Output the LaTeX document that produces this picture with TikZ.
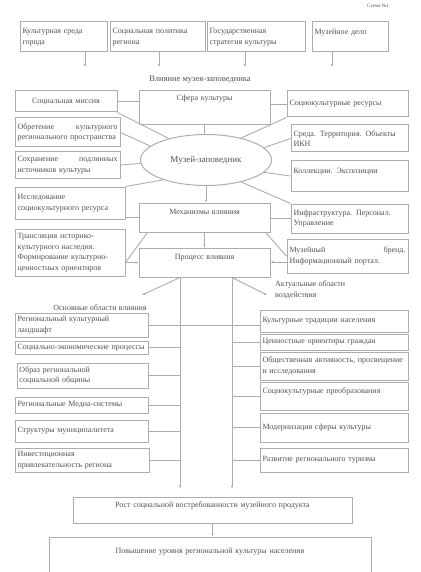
\documentclass[tikz,border=0pt]{standalone}
\usepackage{fontspec}
\setmainfont{Liberation Serif}
\usetikzlibrary{shapes.geometric,arrows.meta}
\definecolor{ln}{gray}{0.68}
\definecolor{tx}{gray}{0.32}
\tikzset{
  bx/.style={draw=ln, line width=1pt, inner xsep=3pt, inner ysep=1pt, font=\fontsize{8}{10.5}\selectfont, text=tx},
  cn/.style={draw=ln, line width=0.9pt},
  arr/.style={cn, -{Latex[length=3pt,width=2.6pt]}},
  lbl/.style={font=\fontsize{8}{10.5}\selectfont, text=tx, align=left, inner sep=0pt},
}
% \mybox{name}{x1}{y1}{x2}{y2}{text}{align}
\newcommand\mybox[7]{%
  \pgfmathsetmacro\bw{#4-#2}\pgfmathsetmacro\bh{#5-#3}\pgfmathsetmacro\tw{#4-#2-5}%
  \pgfmathsetmacro\cx{(#2+#4)/2}\pgfmathsetmacro\cy{(#3+#5)/2}%
  \node[bx, inner xsep=2.5pt, minimum width=\bw pt, minimum height=\bh pt, text width=\tw pt, align=#7] (#1) at (\cx,\cy) {#6};}
\begin{document}
\begin{tikzpicture}[x=1pt,y=-1pt]
\useasboundingbox (0,0) rectangle (420,572);
\node[lbl, font=\fontsize{5}{6}\selectfont] (sch) at (378,6) {Схема №1};
% top row
\mybox{t1}{20}{22}{107}{52}{Культурная среда\\города}{left}
\mybox{t2}{110}{22}{205}{52}{Социальная политика\\региона}{left}
\mybox{t3}{207}{22}{305}{52}{Государственная\\стратегия культуры}{left}
\mybox{t4}{312}{22}{388}{52}{Музейное дело\\\mbox{}}{left}
\foreach \i/\x in {1/85,2/159,3/245,4/332}{
  \coordinate (a\i) at (\x,67);
  \draw[arr] (a\i |- t\i.south) -- (a\i);
}
\node[lbl, font=\fontsize{8.5}{10}\selectfont] (hd) at (200,80) {Влияние музея-заповедника};
% middle
\mybox{sm}{15}{91}{117}{112}{Социальная миссия}{center}
\mybox{sk}{139}{91}{270}{125}{Сфера культуры\\\mbox{}\\\mbox{}}{center}
\mybox{sr}{287}{91}{408}{117}{Социокультурные ресурсы}{left}
\mybox{ob}{15}{118}{120}{147}{Обретение\hfill культурного\\регионального пространства}{left}
\mybox{so}{15}{152}{120}{178}{Сохранение\hfill подлинных\\источников культуры}{left}
\mybox{is}{15}{187}{125}{219}{Исследование\\социокультурного ресурса}{left}
\mybox{sc}{291}{125}{408}{152}{Среда. Территория. Объекты\\ИКН}{left}
\mybox{ko}{291}{161}{408}{191}{Коллекции. Экспозиции\\\mbox{}}{left}
\node[ellipse, draw=ln, line width=1pt, minimum width=131pt, minimum height=51pt,
      font=\fontsize{9}{10}\selectfont, text=tx] (mz) at (206,160) {Музей-заповедник};
\mybox{mh}{139}{203}{270}{232}{Механизмы влияния\\\mbox{}}{center}
\mybox{in}{291}{204}{408}{233}{Инфраструктура. Персонал.\\Управление}{left}
\mybox{tr}{15}{229}{125}{276}{Трансляция историко-\\культурного наследия.\\Формирование культурно-\\ценностных ориентиров}{left}
\mybox{pr}{139}{248}{270}{277}{Процесс влияния\\\mbox{}}{center}
\mybox{mb}{287}{239}{408}{273}{Музейный\hfill бренд.\\Информационный портал.}{left}
% middle connectors
\draw[cn] (sm.east) -- (sm.east -| sk.west);
\draw[cn] (sk.east |- sr.west) -- (sr.west);
\draw[cn] (sk.south) -- (sk.south |- mz.north);
\draw[cn] (sm.south east) -- (mz.150);
\draw[cn] (ob.east) -- (mz.166);
\draw[cn] (so.east) -- (mz.183);
\draw[cn] (is.north east) -- (mz.205);
\draw[cn] (sr.south west) -- (mz.32);
\draw[cn] (sc.west) -- (mz.12);
\draw[cn] (ko.west) -- (mz.-12);
\draw[cn] (in.north west) -- (mz.-32);
\draw[arr] (mz.south) -- (mz.south |- mh.north);
\draw[arr] (mh.south) -- (pr.north);
\draw[cn] (mh.west) -- (mh.west -| is.east);
\draw[cn] (in.west) -- (in.west -| mh.east);
\coordinate (tj) at (tr.east |- pr.west);
\draw[cn] (tj) -- ([xshift=9pt]mh.south west);
\draw[arr] (tj) -- (pr.west);
\draw[cn] ([xshift=-5pt]mh.south east) -- (mb.west);
\draw[arr] ([yshift=-6pt]mb.west) -- ([yshift=-6pt]mb.west -| pr.east);
% outgoing
\coordinate (vl) at (180,0);
\coordinate (vr) at (232,0);
\coordinate (oa) at (142,295);
\coordinate (ab) at (267,295);
\draw[arr] (vl |- pr.south) -- (oa);
\draw[arr] (vr |- pr.south) -- (ab);
\node[lbl, anchor=west] (akt) at (275,290) {Актуальные области\\воздействия};
\node[lbl] (osn) at (100,308) {Основные области влияния};
% lower left
\mybox{L1}{15}{313}{148}{337}{Региональный культурный\\ландшафт}{left}
\mybox{L2}{15}{341}{148}{354}{Социально-экономические процессы}{left}
\mybox{L3}{17}{363}{148}{388}{Образ региональной\\социальной общины}{left}
\mybox{L4}{15}{397}{148}{413}{Региональные Медиа-системы}{left}
\mybox{L5}{15}{420}{148}{442}{Структуры муниципалитета}{left}
\mybox{L6}{15}{448}{149}{472}{Инвестиционная\\привлекательность региона}{left}
% lower right
\mybox{R1}{260}{310}{408}{332}{Культурные традиции населения}{left}
\mybox{R2}{260}{334}{408}{350}{Ценностные ориентиры граждан}{left}
\mybox{R3}{260}{352}{408}{380}{Общественная активность, просвещение\\и исследования}{left}
\mybox{R4}{260}{382}{408}{410}{Социокультурные преобразования\\\mbox{}}{left}
\mybox{R5}{260}{413}{408}{442}{Модернизация сферы культуры}{left}
\mybox{R6}{260}{448}{408}{472}{Развитие регионального туризма}{left}
% bottom
\mybox{rs}{73}{497}{352}{523}{Рост социальной востребованности музейного продукта\\\mbox{}}{center}
\mybox{pv}{49}{537}{371}{585}{Повышение уровня региональной культуры населения\\\mbox{}\\\mbox{}}{center}
% verticals
\draw[arr, shorten >=8pt] (vl |- pr.south) -- (vl |- rs.north);
\draw[arr, shorten >=8pt] (vr |- pr.south) -- (vr |- rs.north);
\draw[cn] (L1.east) -- (L1.east -| R1.west);
\foreach \n in {L2,L3,L4,L5,L6}{ \draw[cn] (\n.east) -- (\n.east -| vl); }
\foreach \n in {R2,R3,R4,R5,R6}{ \draw[cn] (vr |- \n.west) -- (\n.west); }
\draw[arr] (rs.south) -- (rs.south |- pv.north);
\end{tikzpicture}
\end{document}
